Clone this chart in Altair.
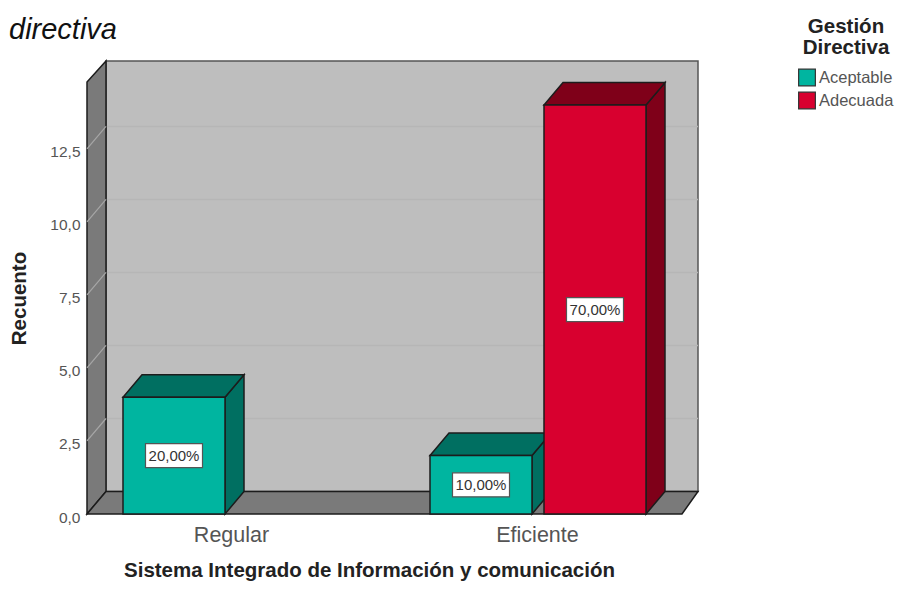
import altair as alt
import pandas as pd

# chart values
categories = ["Regular", "Eficiente", "Eficiente"]
series = ["Aceptable", "Aceptable", "Adecuada"]
counts = [4, 2, 14]
percents = ["20,00%", "10,00%", "70,00%"]
y_ticks = [0, 2.5, 5, 7.5, 10, 12.5]
legend_order = ["Aceptable", "Adecuada"]

# layout of the simulated 3D box (x scale is abstract slots)
XMAX, YMAX = 6.11, 15.51
DX, DY = 0.19, 0.77
FRONT_RIGHT = 5.95
FRONT_TOP = 14.79
BAR_W = 1.02
BAR_LEFT = {("Regular", "Aceptable"): 0.36,
            ("Eficiente", "Aceptable"): 3.43,
            ("Eficiente", "Adecuada"): 4.57}
FRONT = {"Aceptable": "#00B5A0", "Adecuada": "#D8002F"}
SHADE = {"Aceptable": "#006F61", "Adecuada": "#7F0019"}
LINE = "#1c1c1c"
W, H = 611, 453

xs = alt.Scale(domain=[0, XMAX], nice=False, zero=False)
ys = alt.Scale(domain=[0, YMAX], nice=False, zero=False)
ax_x = alt.Axis(values=[1.44, 4.5], domain=False, ticks=False, grid=False, labelFontSize=21.5,
                labelColor="#555555", labelFont="Liberation Sans", labelPadding=10,
                labelExpr="datum.value < 3 ? 'Regular' : 'Eficiente'",
                titleFont="Liberation Sans", titleFontSize=20.5, titleFontWeight="bold",
                titleColor="#222222", titleX=282, titleY=62, titleBaseline="alphabetic", titleAnchor="middle")
ax_y = alt.Axis(values=y_ticks, domain=False, ticks=False, grid=False, labelFontSize=15.5,
                labelColor="#555555", labelFont="Liberation Sans", labelPadding=7, labelOffset=3,
                labelExpr="replace(format(datum.value, '.1f'), '.', ',')",
                titleFont="Liberation Sans", titleFontSize=20.5, titleFontWeight="bold",
                titleColor="#222222", titleX=-58, titleY=237, titleAnchor="middle")
x_title = "Sistema Integrado de Información y comunicación"
y_title = "Recuento"


def X(f="x"):
    return alt.X(f"{f}:Q", scale=xs, title=x_title, axis=ax_x)


def Y(f="y"):
    return alt.Y(f"{f}:Q", scale=ys, title=y_title, axis=ax_y)


def poly(points, fill, stroke=LINE, sw=1.5):
    d = pd.DataFrame(points, columns=["x", "y", "y2"])
    return alt.Chart(d).mark_area(fill=fill, stroke=stroke, strokeWidth=sw, opacity=1, interpolate="linear",
                                  orient="vertical").encode(
        x=X(), y=alt.Y("y:Q", scale=ys, title=y_title, axis=ax_y, stack=None), y2="y2:Q")


back = alt.Chart(pd.DataFrame({"x": [DX], "x2": [XMAX], "y": [DY], "y2": [YMAX]})).mark_rect(
    fill="#BEBEBE", stroke="#555555", strokeWidth=1.5
).encode(x=X(), x2="x2:Q", y=Y(), y2="y2:Q")

left_wall = poly([(0, 0, FRONT_TOP), (DX, DY, YMAX)], "#7A7A7A")
floor = poly([(0, 0, 0), (DX, 0, DY), (FRONT_RIGHT, 0, DY), (XMAX, DY, DY)], "#7A7A7A")

grid_rows = []
wall_rows = []
for v in y_ticks[1:]:
    wall_rows += [{"x": 0, "y": v, "t": v}, {"x": DX, "y": v + DY, "t": v}]
    grid_rows += [{"x": DX, "y": v + DY, "t": v}, {"x": XMAX, "y": v + DY, "t": v}]
grid_back = alt.Chart(pd.DataFrame(grid_rows)).mark_line(color="#B6B6B6", strokeWidth=1.5).encode(
    x=X(), y=Y(), detail="t:N")
grid_wall = alt.Chart(pd.DataFrame(wall_rows)).mark_line(color="#A6A6A6", strokeWidth=1.2).encode(
    x=X(), y=Y(), detail="t:N")

layers = [back, grid_back, left_wall, floor, grid_wall]

for c, s, v in zip(categories, series, counts):
    x0 = BAR_LEFT[(c, s)]
    x1 = x0 + BAR_W
    side = poly([(x1, 0, v), (x1 + DX, DY, v + DY)], SHADE[s])
    top = poly([(x0, v, v), (x0 + DX, v, v + DY), (x1, v, v + DY), (x1 + DX, v + DY, v + DY)], SHADE[s])
    front = alt.Chart(pd.DataFrame({"serie": [s], "x": [x0], "x2": [x1], "y": [0], "y2": [v]})).mark_rect(
        stroke=LINE, strokeWidth=1.5
    ).encode(
        x=X(), x2="x2:Q", y=Y(), y2="y2:Q",
        color=alt.Color("serie:N", scale=alt.Scale(domain=legend_order, range=[FRONT[k] for k in legend_order]),
                        legend=alt.Legend(title=["Gestión", "Directiva"], orient="none", legendX=711, legendY=-44,
                                          titleFont="Liberation Sans", titleFontSize=20.5, titleFontWeight="bold",
                                          titleColor="#222222", titleAlign="center", titleAnchor="middle",
                                          titleLineHeight=21, titlePadding=10,
                                          labelFont="Liberation Sans", labelFontSize=16.5, labelColor="#555555",
                                          symbolType="square", symbolSize=280, symbolOpacity=1,
                                          symbolStrokeColor="#333333", symbolStrokeWidth=1.2, rowPadding=1,
                                          labelOffset=3)),
    )
    layers += [side, top, front]

label_df = pd.DataFrame({
    "x": [BAR_LEFT[(c, s)] + BAR_W / 2 for c, s in zip(categories, series)],
    "y": [v / 2 for v in counts],
    "label": percents,
})
boxes = alt.Chart(label_df).mark_rect(width=57, height=24, fill="white", stroke="#555555", strokeWidth=1.2).encode(
    x=X(), y=Y())
texts = alt.Chart(label_df).mark_text(font="Liberation Sans", fontSize=15, color="#333333").encode(
    x=X(), y=Y(), text="label:N")
layers += [boxes, texts]

chart = alt.layer(*layers).properties(
    width=W, height=H,
    title=alt.TitleParams("directiva", font="Liberation Sans", fontSize=29, fontStyle="italic", fontWeight="normal",
                          color="#111111", anchor="start", frame="group", dx=-78, offset=0, dy=28),
    autosize=alt.AutoSizeParams(type="none", contains="content"),
    padding={"left": 79, "top": 53, "right": 197, "bottom": 67},
).configure_view(stroke=None)

chart.save("out.html", embed_options={"renderer": "svg", "actions": False})
